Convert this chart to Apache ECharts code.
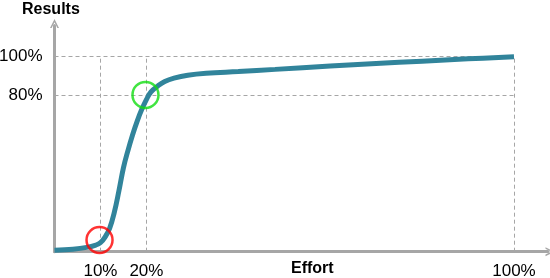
<!DOCTYPE html>
<html>
<head>
<meta charset="utf-8">
<script src="https://cdn.jsdelivr.net/npm/echarts@6/dist/echarts.min.js"></script>
<style>
html,body{margin:0;padding:0;background:#fff;}
#chart{width:550px;height:278px;}
</style>
</head>
<body>
<div id="chart"></div>
<script>
// Effort (%) vs Results (%)
var effort  = [0, 4, 7, 9, 10, 11, 12, 13, 14, 15, 16, 17, 18, 19, 20, 21, 22.5, 24, 26, 29, 33, 40, 48, 60, 70, 80, 90, 100];
var results = [0.8, 1.3, 2.2, 3.4, 4.6, 7.5, 12, 20, 31, 43, 52, 60, 67, 73, 78, 82, 85, 87.3, 89, 90.5, 91.5, 92.4, 93.5, 95.2, 96.5, 97.7, 98.9, 100];

var xTicks = [10, 20, 100];
var yTicks = [80, 100];

var redPoint = [9.8, 6];
var greenPoint = [19.8, 80.4];

var guideX = [10, 20, 100];
var guideY = [80, 100];

var chart = echarts.init(document.getElementById('chart'));

var lineData = effort.map(function (x, i) { return [x, results[i]]; });

var guides = [];
guideX.forEach(function (x) { guides.push([{ coord: [x, 0] }, { coord: [x, 100] }]); });
guideY.forEach(function (y) { guides.push([{ coord: [0, y] }, { coord: [100, y] }]); });

var axisColor = '#a6a6a6';
var chevron = 'path://M0,10 L5,0 L10,10 L8.2,10 L5,3.6 L1.8,10 Z';

chart.setOption({
  animation: false,
  grid: { left: 54.5, right: 2, top: 25.5, bottom: 26.3, containLabel: false, outerBoundsMode: 'none' },
  xAxis: {
    type: 'value', min: 0, max: 107.4,
    axisLine: { show: true, lineStyle: { color: axisColor, width: 3 }, symbol: ['none', chevron], symbolSize: [13, 9], symbolOffset: [0, 2] },
    axisTick: { show: false },
    splitLine: { show: false },
    axisLabel: { customValues: xTicks, formatter: '{value}%', color: '#000', fontSize: 17, fontFamily: 'Liberation Sans', margin: 11 }
  },
  yAxis: {
    type: 'value', min: 0, max: 116,
    axisLine: { show: true, lineStyle: { color: axisColor, width: 3 }, symbol: ['none', chevron], symbolSize: [13, 9], symbolOffset: [0, 2] },
    axisTick: { show: false },
    splitLine: { show: false },
    axisLabel: { customValues: yTicks, formatter: '{value}%', color: '#000', fontSize: 17, fontFamily: 'Liberation Sans', margin: 12 }
  },
  graphic: [
    { type: 'text', left: 22, top: 2, style: { text: 'Results', font: 'bold 16px "Liberation Sans"', fill: '#000' } },
    { type: 'text', left: 291, top: 261, style: { text: 'Effort', font: 'bold 16px "Liberation Sans"', fill: '#000' } }
  ],
  series: [
    {
      type: 'line',
      data: lineData,
      smooth: 0.4,
      showSymbol: false,
      lineStyle: { color: '#31849b', width: 5 },
      z: 3,
      markLine: {
        silent: true,
        symbol: ['none', 'none'],
        label: { show: false },
        lineStyle: { color: axisColor, type: [4, 3], width: 1 },
        data: guides,
        z: 1
      }
    },
    {
      type: 'scatter',
      data: [{ value: redPoint, itemStyle: { borderColor: '#ff0000' } }, { value: greenPoint, itemStyle: { borderColor: '#11dd11' } }],
      symbol: 'circle',
      symbolSize: 26,
      itemStyle: { color: 'rgba(0,0,0,0)', borderWidth: 2.5 },
      z: 5
    }
  ]
});
</script>
</body>
</html>
